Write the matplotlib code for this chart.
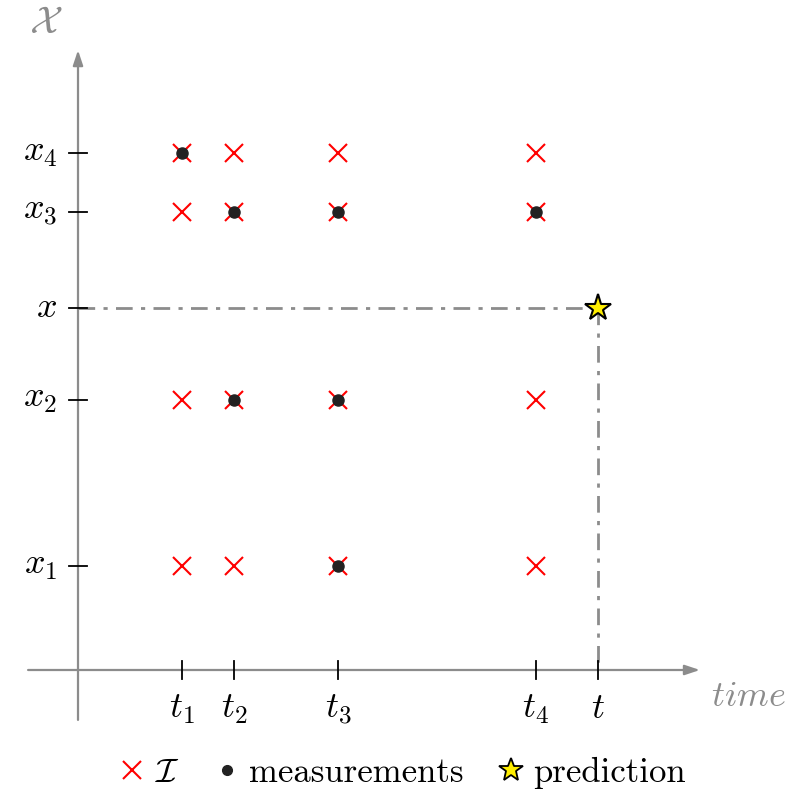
import matplotlib

matplotlib.use("Agg")
import matplotlib.pyplot as plt
from matplotlib.lines import Line2D

plt.rcParams["mathtext.fontset"] = "cm"
plt.rcParams["font.family"] = "serif"
plt.rcParams["font.serif"] = ["cmr10", "DejaVu Serif"]

# time instants and state values
t_names = [r"$t_1$", r"$t_2$", r"$t_3$", r"$t_4$"]
t_vals = [1.0, 1.5, 2.5, 4.4]
x_names = [r"$x_1$", r"$x_2$", r"$x_3$", r"$x_4$"]
x_vals = [1.0, 2.6, 4.4, 4.97]

# measured (t index, x index) pairs
meas_t = [0, 1, 2, 3, 1, 2, 2]
meas_x = [3, 2, 2, 2, 1, 1, 0]

pred_t = 5.0
pred_x = 3.48

GRAY = "#8c8c8c"

fig = plt.figure(figsize=(7.9, 8.0), dpi=100)
ax = fig.add_axes([0, 0, 1, 1])
ax.set_xlim(-0.75, 6.846)
ax.set_ylim(-1.25, 6.442)
ax.axis("off")

# axes with arrowheads
ax.annotate("", xy=(5.98, 0), xytext=(-0.48, 0),
            arrowprops=dict(arrowstyle="-|>,head_length=0.9,head_width=0.3",
                            color=GRAY, lw=1.6, shrinkA=0, shrinkB=0))
ax.annotate("", xy=(0, 5.96), xytext=(0, -0.48),
            arrowprops=dict(arrowstyle="-|>,head_length=0.9,head_width=0.3",
                            color=GRAY, lw=1.6, shrinkA=0, shrinkB=0))

# ticks and labels
tk = 0.085
for tv, tn in zip(t_vals + [pred_t], t_names + [r"$t$"]):
    ax.plot([tv, tv], [-tk, tk], color="black", lw=1.3, zorder=3)
    ax.text(tv, -0.38, tn, ha="center", va="center", fontsize=26)
for xv, xn in zip(x_vals + [pred_x], x_names + [r"$x$"]):
    ax.plot([-tk, tk], [xv, xv], color="black", lw=1.3, zorder=3)
    ax.text(-0.2, xv, xn, ha="right", va="center", fontsize=26)

ax.text(-0.31, 6.22, r"$\mathcal{X}$", color=GRAY, ha="center", va="center", fontsize=28)
ax.text(6.45, -0.26, r"$time$", color=GRAY, ha="center", va="center", fontsize=26)

# dash-dot guide lines to prediction
dd = (0, (6, 3, 1.5, 3))
ax.plot([0, pred_t], [pred_x, pred_x], color=GRAY, lw=2, linestyle=dd, zorder=2)
ax.plot([pred_t, pred_t], [pred_x, 0], color=GRAY, lw=2, linestyle=dd, zorder=2)

# interpolation grid (crosses)
gt = [tv for tv in t_vals for _ in x_vals]
gx = [xv for _ in t_vals for xv in x_vals]
ax.plot(gt, gx, linestyle="none", marker="x", color="red", markersize=13, mew=1.5, zorder=4)

# measurements
ax.plot([t_vals[i] for i in meas_t], [x_vals[j] for j in meas_x], linestyle="none",
        marker="o", color="#222222", markersize=8, zorder=5)

# prediction
ax.plot([pred_t], [pred_x], linestyle="none", marker="*", markersize=20,
        markerfacecolor="#ffee00", markeredgecolor="black", mew=1.5, zorder=6)

handles = [
    Line2D([0], [0], linestyle="none", marker="x", color="red", markersize=13, mew=1.5,
           label=r"$\mathcal{I}$"),
    Line2D([0], [0], linestyle="none", marker="o", color="#222222", markersize=7,
           label="measurements"),
    Line2D([0], [0], linestyle="none", marker="*", markersize=18,
           markerfacecolor="#ffee00", markeredgecolor="black", mew=1.3, label="prediction"),
]
fig.legend(handles=handles, loc="center", bbox_to_anchor=(0.51, 0.034), ncol=3,
           frameon=False, fontsize=25, handlelength=0.7, handletextpad=0.3,
           columnspacing=1.0)

fig.savefig("out.png", dpi=100)
